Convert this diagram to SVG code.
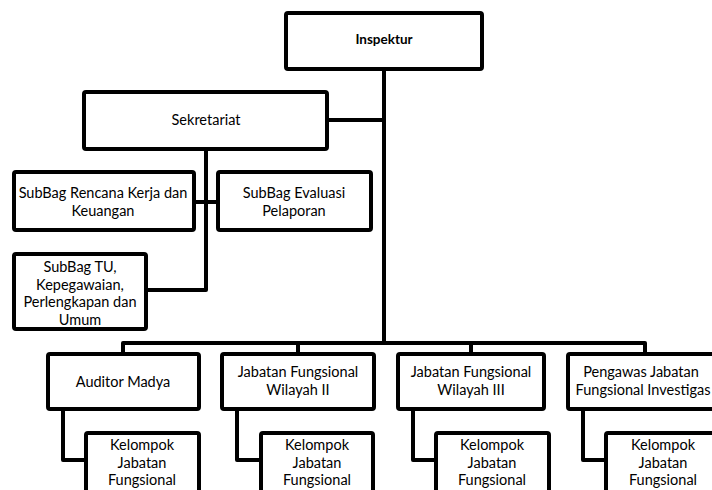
<svg xmlns="http://www.w3.org/2000/svg" width="712" height="490" viewBox="0 0 712 490">
<style>
.box{fill:#fff;stroke:#000;stroke-width:4;stroke-linejoin:round}
.ln{fill:none;stroke:#000;stroke-width:4;stroke-linejoin:round}
text{font-family:Lato,"Open Sans",sans-serif;font-size:14.5px;fill:#000;text-anchor:middle}
.b{font-weight:bold;font-size:13.5px}
</style>
<rect width="712" height="490" fill="#fff"/>
<g id="connectors">
<path class="ln" d="M384 70V343"/>
<path class="ln" d="M327 120H384"/>
<path class="ln" d="M206 149V290H146"/>
<path class="ln" d="M194 202H218"/>
<path class="ln" d="M123 353V343H645V353"/>
<path class="ln" d="M298 343V353"/>
<path class="ln" d="M471 343V353"/>
<path class="ln" d="M63 409V460H86"/>
<path class="ln" d="M237 409V460H261"/>
<path class="ln" d="M413 409V460H436"/>
<path class="ln" d="M583 409V460H606"/>
</g>
<g id="inspektur"><rect class="box" x="286" y="13" width="196" height="56" rx="2"/><text class="b" x="384" y="44">Inspektur</text></g>
<g id="sekretariat"><rect class="box" x="84" y="92" width="243" height="57" rx="2"/><text x="206" y="125">Sekretariat</text></g>
<g id="subbag-rencana"><rect class="box" x="14" y="172" width="180" height="58" rx="2"/><text x="103" y="198">SubBag Rencana Kerja dan</text><text x="103" y="215.5">Keuangan</text></g>
<g id="subbag-evaluasi"><rect class="box" x="218" y="172" width="153" height="58" rx="2"/><text x="294" y="198">SubBag Evaluasi</text><text x="294" y="215.5">Pelaporan</text></g>
<g id="subbag-tu"><rect class="box" x="14" y="254" width="132" height="75" rx="2"/><text x="80" y="272">SubBag TU,</text><text x="80" y="289.5">Kepegawaian,</text><text x="80" y="307">Perlengkapan dan</text><text x="80" y="324.5">Umum</text></g>
<g id="auditor-madya"><rect class="box" x="48" y="354" width="151" height="55" rx="2"/><text x="123" y="387">Auditor Madya</text></g>
<g id="jabatan-2"><rect class="box" x="222" y="354" width="152" height="55" rx="2"/><text x="298" y="377">Jabatan Fungsional</text><text x="298" y="394.5">Wilayah II</text></g>
<g id="jabatan-3"><rect class="box" x="398" y="354" width="146" height="55" rx="2"/><text x="471" y="377">Jabatan Fungsional</text><text x="471" y="394.5">Wilayah III</text></g>
<g id="pengawas"><rect class="box" x="568" y="354" width="154" height="55" rx="2"/><text x="641" y="377">Pengawas Jabatan</text><text x="643" y="394.5">Fungsional Investigas</text></g>
<g id="kelompok-1"><rect class="box" x="86" y="433" width="113" height="70" rx="2"/><text x="142" y="450">Kelompok</text><text x="142" y="467.5">Jabatan</text><text x="142" y="485">Fungsional</text></g>
<g id="kelompok-2"><rect class="box" x="261" y="433" width="112" height="70" rx="2"/><text x="317" y="450">Kelompok</text><text x="317" y="467.5">Jabatan</text><text x="317" y="485">Fungsional</text></g>
<g id="kelompok-3"><rect class="box" x="436" y="433" width="113" height="70" rx="2"/><text x="492" y="450">Kelompok</text><text x="492" y="467.5">Jabatan</text><text x="492" y="485">Fungsional</text></g>
<g id="kelompok-4"><rect class="box" x="606" y="433" width="114" height="70" rx="2"/><text x="663" y="450">Kelompok</text><text x="663" y="467.5">Jabatan</text><text x="663" y="485">Fungsional</text></g>
</svg>
